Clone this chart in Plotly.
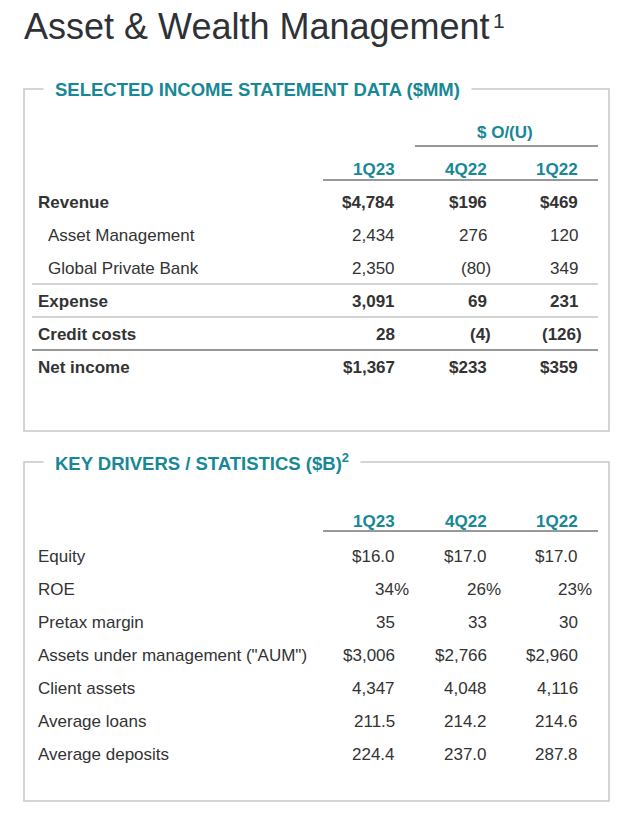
import plotly.graph_objects as go

# Figure fills the whole 625x818 window; axes are set up so that data units
# equal page pixels (the page body margin is removed after rendering).
W, H = 625, 818

FONT = "Liberation Sans, Arial, Helvetica, sans-serif"
BODY = "#333333"
TEAL = "#178895"
TITLE_C = "#2e3237"
BOX_C = "#c8c8c8"
LIGHT_RULE = "#c4c4c4"
DARK_RULE = "#333333"

# ---------------- data ----------------
title_text = "Asset & Wealth Management"
title_note = "1"
is_header = "SELECTED INCOME STATEMENT DATA ($MM)"
kd_header = "KEY DRIVERS / STATISTICS ($B)<sup>2</sup>"
variance_label = "$ O/(U)"
periods = ["1Q23", "4Q22", "1Q22"]

is_labels = ["Revenue", "Asset Management", "Global Private Bank",
             "Expense", "Credit costs", "Net income"]
is_bold = [True, False, False, True, True, True]
is_indent = [False, True, True, False, False, False]
is_dollar = [True, False, False, False, False, True]
is_1q23 = [4784, 2434, 2350, 3091, 28, 1367]
is_4q22 = [196, 276, -80, 69, -4, 233]
is_1q22 = [469, 120, 349, 231, -126, 359]
# rule drawn below row index: style
is_rules = {2: "light", 3: "light", 4: "dark"}

kd_labels = ["Equity", "ROE", "Pretax margin", 'Assets under management ("AUM")',
             "Client assets", "Average loans", "Average deposits"]
kd_1q23 = [16.0, 34, 35, 3006, 4347, 211.5, 224.4]
kd_4q22 = [17.0, 26, 33, 2766, 4048, 214.2, 237.0]
kd_1q22 = [17.0, 23, 30, 2960, 4116, 214.6, 287.8]
kd_fmt = ["${:.1f}", "{:.0f}%", "{:.0f}", "${:,.0f}", "{:,.0f}", "{:.1f}", "{:.1f}"]

# ---------------- layout constants (page pixels) ----------------
col_x = [397, 489, 580]
label_x = 36
indent_x = 46
row_step = 33
is_y0 = 202
kd_y0 = 556
box1 = (24, 89, 609, 431)
box2 = (24, 462, 609, 801)

fig = go.Figure()
fig.add_trace(go.Scatter(x=[1, W - 1], y=[1, H - 1], mode="markers",
                         marker=dict(opacity=0), hoverinfo="skip", showlegend=False))

ann = []
shapes = []


def txt(x, y, text, anchor="left", bold=False, size=17, color=BODY, xshift=0, **kw):
    d = dict(x=x, y=y, xref="x", yref="y", text=text, showarrow=False,
             xanchor=anchor, yanchor="middle", xshift=xshift,
             font=dict(family=FONT, size=size, color=color,
                       weight="bold" if bold else "normal"))
    d.update(kw)
    ann.append(d)


def line(x0, y0, x1, y1, color, width):
    shapes.append(dict(type="line", xref="x", yref="y", x0=x0, y0=y0, x1=x1, y1=y1,
                       line=dict(color=color, width=width)))


def fmt_is(v, dollar):
    s = f"{abs(v):,}"
    if dollar:
        s = "$" + s
    return f"({s})" if v < 0 else s


# title
txt(22, 26, title_text, size=36, color=TITLE_C)
txt(491, 20, title_note, size=21, color=TITLE_C)

# boxes
for b in (box1, box2):
    shapes.append(dict(type="rect", xref="x", yref="y", x0=b[0], y0=b[1], x1=b[2], y1=b[3],
                       line=dict(color=BOX_C, width=1.5), fillcolor="rgba(0,0,0,0)"))

txt(43, box1[1], is_header, bold=True, size=18.5, color=TEAL, bgcolor="white", borderpad=11)
txt(43, box2[1], kd_header, bold=True, size=18.5, color=TEAL, bgcolor="white", borderpad=11)

# ---- income statement ----
txt(505, 132, variance_label, anchor="center", bold=True, color=TEAL)
line(415, 146, 598, 146, DARK_RULE, 1.2)
for cx, p in zip(col_x, periods):
    txt(cx, 169, p, anchor="right", bold=True, color=TEAL)
line(323, 180, 598, 180, DARK_RULE, 1.2)

cols_is = [is_1q23, is_4q22, is_1q22]
for i, lab in enumerate(is_labels):
    y = is_y0 + row_step * i
    txt(indent_x if is_indent[i] else label_x, y, lab, bold=is_bold[i])
    for cx, col in zip(col_x, cols_is):
        v = col[i]
        txt(cx, y, fmt_is(v, is_dollar[i]), anchor="right", bold=is_bold[i],
            xshift=4 if v < 0 else 0)
    if i in is_rules:
        ry = y + row_step / 2 - 0.5
        if is_rules[i] == "dark":
            line(32, ry, 598, ry, DARK_RULE, 1.2)
        else:
            line(32, ry, 598, ry, LIGHT_RULE, 1.5)

# ---- key drivers ----
for cx, p in zip(col_x, periods):
    txt(cx, 521, p, anchor="right", bold=True, color=TEAL)
line(323, 531, 598, 531, DARK_RULE, 1.2)

cols_kd = [kd_1q23, kd_4q22, kd_1q22]
for i, lab in enumerate(kd_labels):
    y = kd_y0 + row_step * i
    txt(label_x, y, lab)
    for cx, col in zip(col_x, cols_kd):
        s = kd_fmt[i].format(col[i])
        # percent sign hangs to the right of the number column
        txt(cx, y, s, anchor="right", xshift=14 if s.endswith("%") else 0)

fig.update_layout(
    width=W, height=H, margin=dict(l=0, r=0, t=0, b=0),
    paper_bgcolor="white", plot_bgcolor="white",
    xaxis=dict(range=[0, W], visible=False, fixedrange=True),
    yaxis=dict(range=[H, 0], visible=False, fixedrange=True),
    annotations=ann, shapes=shapes, showlegend=False, hovermode=False,
)
fig.write_html("out.html",
               config={"displayModeBar": False, "staticPlot": True},
               post_script="document.body.style.margin='0';document.body.style.overflow='hidden';")
